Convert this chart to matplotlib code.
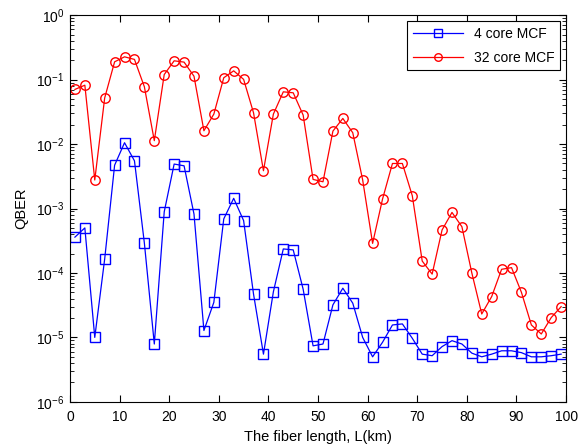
import matplotlib
matplotlib.use('Agg')
from matplotlib import pyplot as plt
from matplotlib.ticker import LogLocator, NullFormatter

plt.rcParams['font.family'] = ['Liberation Sans', 'DejaVu Sans']

# fiber lengths in km
length_km = list(range(1, 100, 2))

qber_4core = [
    3.6e-4, 5.0e-4, 1.0e-5, 1.65e-4, 4.7e-3, 1.05e-2, 5.5e-3, 2.9e-4, 7.9e-6, 8.9e-4,
    4.9e-3, 4.6e-3, 8.2e-4, 1.28e-5, 3.5e-5, 6.9e-4, 1.44e-3, 6.5e-4, 4.7e-5, 5.5e-6,
    5.1e-5, 2.36e-4, 2.28e-4, 5.6e-5, 7.4e-6, 7.9e-6, 3.2e-5, 5.8e-5, 3.4e-5, 1.0e-5,
    5.0e-6, 8.4e-6, 1.56e-5, 1.62e-5, 9.7e-6, 5.5e-6, 5.2e-6, 7.2e-6, 8.9e-6, 7.9e-6,
    5.7e-6, 5.0e-6, 5.5e-6, 6.2e-6, 6.2e-6, 5.8e-6, 5.0e-6, 5.0e-6, 5.2e-6, 5.5e-6,
]

qber_32core = [
    0.0705, 0.082, 2.77e-3, 0.052, 0.189, 0.226, 0.206, 0.0774, 0.0113, 0.120,
    0.196, 0.187, 0.113, 0.0161, 0.0292, 0.107, 0.137, 0.101, 0.0306, 3.86e-3,
    0.0292, 0.0647, 0.0625, 0.0282, 2.83e-3, 2.6e-3, 0.0159, 0.025, 0.015, 2.77e-3,
    2.88e-4, 1.4e-3, 5.0e-3, 5.0e-3, 1.58e-3, 1.53e-4, 9.6e-5, 4.65e-4, 8.7e-4, 5.22e-4,
    1.0e-4, 2.31e-5, 4.3e-5, 1.14e-4, 1.21e-4, 5.0e-5, 1.56e-5, 1.13e-5, 2.03e-5, 3.0e-5,
]

fig = plt.figure(figsize=(5.83, 4.47), dpi=100)
ax = fig.add_axes([0.120, 0.101, 0.851, 0.865])

ax.semilogy(length_km, qber_4core, color='#0000ff', marker='s', markersize=6.8,
            markerfacecolor='none', linewidth=0.9, label='4 core MCF')
ax.semilogy(length_km, qber_32core, color='#ff0000', marker='o', markersize=6.8,
            markerfacecolor='none', linewidth=0.9, label='32 core MCF')

ax.set_xlim(0, 100)
ax.set_ylim(1e-6, 1)
ax.set_xticks(range(0, 101, 10))
ax.yaxis.set_major_locator(LogLocator(base=10, numticks=10))
ax.yaxis.set_minor_locator(LogLocator(base=10, subs=range(2, 10), numticks=10))
ax.yaxis.set_minor_formatter(NullFormatter())
ax.tick_params(which='both', direction='in', top=True, right=True, labelsize=10)
ax.tick_params(which='major', length=5)
ax.tick_params(which='minor', length=3)
ax.tick_params(axis='x', pad=6)
ax.tick_params(axis='y', pad=4)

ax.set_xlabel('The fiber length, L(km)', fontsize=10.5, labelpad=4)
ax.set_ylabel('QBER', fontsize=10.5, labelpad=6)

leg = ax.legend(loc='upper right', fontsize=10, fancybox=False, edgecolor='black',
                framealpha=1, handlelength=3.6, labelspacing=0.7, borderaxespad=0.45,
                markerscale=0.8)
leg.get_frame().set_linewidth(0.8)

fig.savefig('out.png', dpi=100)
